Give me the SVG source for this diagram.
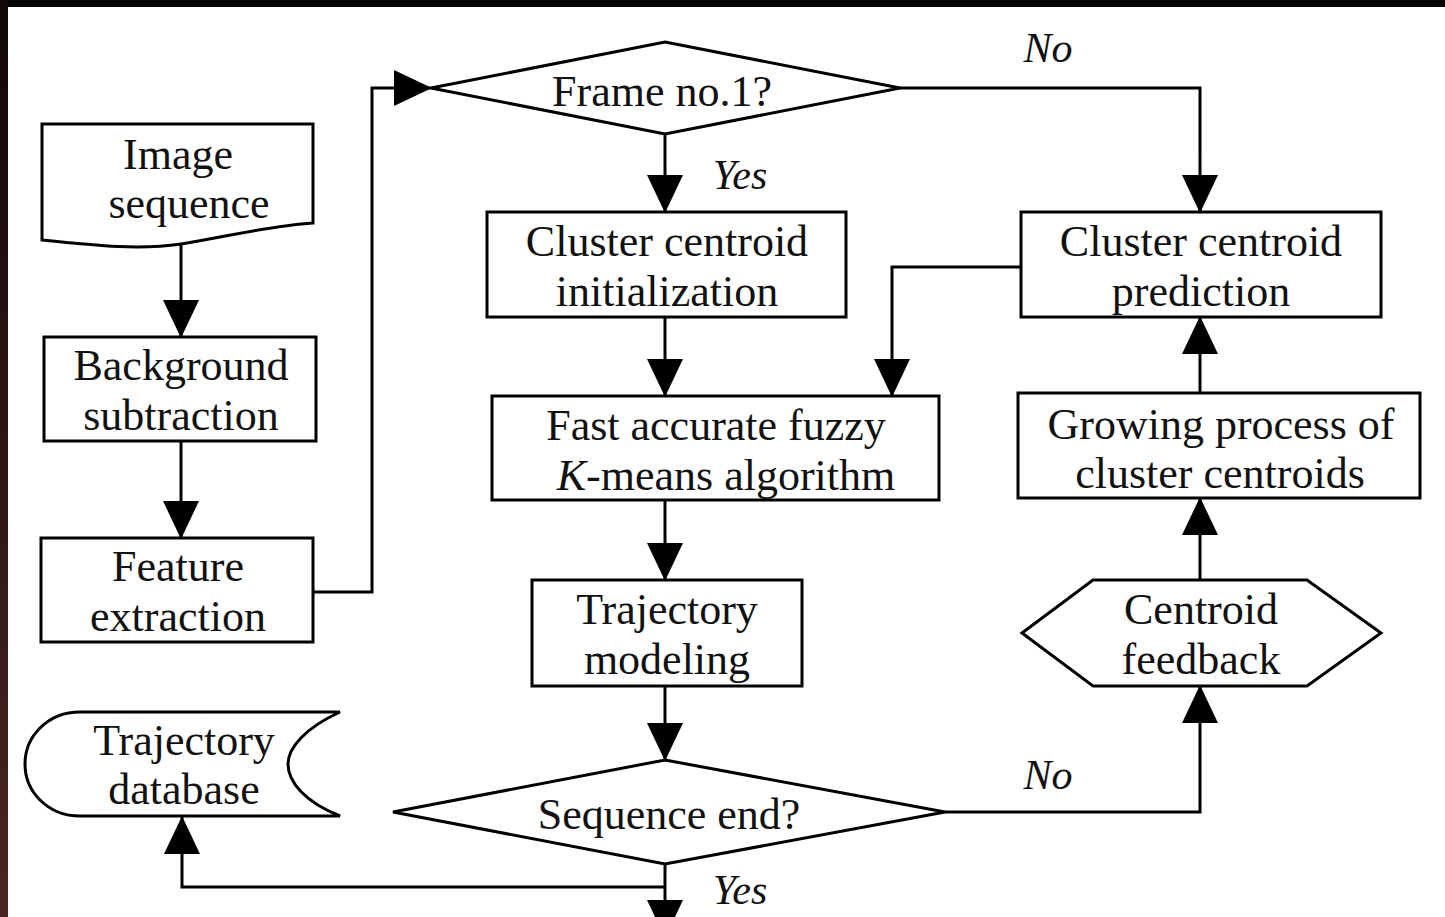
<svg xmlns="http://www.w3.org/2000/svg" width="1445" height="917" viewBox="0 0 1445 917">
<style>
.shape{fill:#fff;stroke:#000;stroke-width:3;stroke-linejoin:miter}
.t{font-family:"Liberation Serif","Times New Roman",serif;font-size:44px;fill:#111;text-anchor:middle}
.lbl{font-family:"Liberation Serif","Times New Roman",serif;font-size:42px;font-style:italic;fill:#111;text-anchor:middle}
.c{fill:none;stroke:#000;stroke-width:3;marker-end:url(#ah)}
.cn{fill:none;stroke:#000;stroke-width:3}
</style>
<defs>
<linearGradient id="lb" x1="0" y1="0" x2="0" y2="1">
<stop offset="0" stop-color="#120808"/>
<stop offset="1" stop-color="#4c2424"/>
</linearGradient>
<marker id="ah" markerWidth="38" markerHeight="36" viewBox="0 0 38 36" refX="37" refY="18" orient="auto" markerUnits="userSpaceOnUse">
<path d="M0,0 L38,18 L0,36 Z" fill="#000"/>
</marker>
</defs>
<rect x="0" y="0" width="1445" height="917" fill="#fff"/>
<rect x="0" y="0" width="1445" height="7" fill="#050303"/>
<rect x="0" y="0" width="8" height="917" fill="url(#lb)"/>

<g id="connectors">
<path class="c" d="M181,245 V337"/>
<path class="c" d="M181,441 V538"/>
<path class="c" d="M313,592 H372 V88 H431"/>
<path class="c" d="M665,134 V212"/>
<path class="cn" d="M900,88 H1200 V150"/>
<path class="c" d="M1200,150 V212"/>
<path class="c" d="M665,317 V396"/>
<path class="c" d="M1021,267 H892 V396"/>
<path class="c" d="M665,500 V580"/>
<path class="c" d="M665,686 V760"/>
<path class="c" d="M1200,393 V317"/>
<path class="c" d="M1200,580 V498"/>
<path class="c" d="M945,812 H1200 V686"/>
<path class="c" d="M665,864 V937"/>
<path class="c" d="M665,887 H182 V817"/>
<text class="lbl" x="740" y="189">Yes</text>
<text class="lbl" x="1048" y="62">No</text>
<text class="lbl" x="1048" y="789">No</text>
<text class="lbl" x="740" y="904">Yes</text>
</g>

<g id="image-sequence">
<path class="shape" d="M42,124 H313 V223 C268,226 230,236 181,244 C140,250 100,246 42,240 Z"/>
<text class="t" x="178" y="169">Image</text>
<text class="t" x="189" y="218">sequence</text>
</g>

<g id="background-subtraction">
<rect class="shape" x="44" y="337" width="272" height="104"/>
<text class="t" x="181" y="380">Background</text>
<text class="t" x="181" y="430">subtraction</text>
</g>

<g id="feature-extraction">
<rect class="shape" x="41" y="538" width="272" height="104"/>
<text class="t" x="178" y="581">Feature</text>
<text class="t" x="178" y="631">extraction</text>
</g>

<g id="trajectory-database">
<path class="shape" d="M80,712 H340 C305,728 288,748 288,764 C288,782 305,802 340,816 H80 C48,816 25,792 25,764 C25,736 48,712 80,712 Z"/>
<text class="t" x="184" y="755">Trajectory</text>
<text class="t" x="184" y="804">database</text>
</g>

<g id="frame-no1">
<polygon class="shape" points="665,42 900,88 665,134 431,88"/>
<text class="t" x="662" y="106">Frame no.1?</text>
</g>

<g id="cluster-centroid-initialization">
<rect class="shape" x="487" y="212" width="359" height="105"/>
<text class="t" x="667" y="256">Cluster centroid</text>
<text class="t" x="667" y="306">initialization</text>
</g>

<g id="cluster-centroid-prediction">
<rect class="shape" x="1021" y="212" width="360" height="105"/>
<text class="t" x="1201" y="256">Cluster centroid</text>
<text class="t" x="1201" y="306">prediction</text>
</g>

<g id="fuzzy-kmeans">
<rect class="shape" x="492" y="396" width="447" height="104"/>
<text class="t" x="716" y="440">Fast accurate fuzzy</text>
<text class="t" x="726" y="490"><tspan font-style="italic">K</tspan>-means algorithm</text>
</g>

<g id="growing-process">
<rect class="shape" x="1018" y="393" width="402" height="105"/>
<text class="t" x="1221" y="439">Growing process of</text>
<text class="t" x="1220" y="488">cluster centroids</text>
</g>

<g id="trajectory-modeling">
<rect class="shape" x="532" y="580" width="270" height="106"/>
<text class="t" x="667" y="624">Trajectory</text>
<text class="t" x="667" y="674">modeling</text>
</g>

<g id="centroid-feedback">
<polygon class="shape" points="1022,633 1093,580 1307,580 1381,633 1307,686 1093,686"/>
<text class="t" x="1201" y="624">Centroid</text>
<text class="t" x="1201" y="674">feedback</text>
</g>

<g id="sequence-end">
<polygon class="shape" points="665,760 945,812 665,864 393,812"/>
<text class="t" x="669" y="829">Sequence end?</text>
</g>
</svg>
